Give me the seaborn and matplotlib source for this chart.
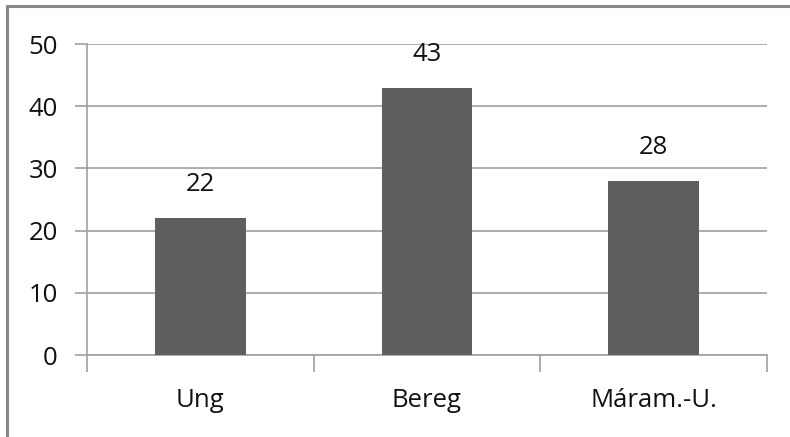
import matplotlib
matplotlib.use("Agg")
import matplotlib.pyplot as plt
from matplotlib.lines import Line2D
import seaborn as sns
import pandas as pd

categories = ["Ung", "Bereg", "Máram.-U."]
values = [22, 43, 28]
yticks = [0, 10, 20, 30, 40, 50]

sns.set_style("white")
plt.rcParams['font.family'] = ['Open Sans', 'DejaVu Sans']

df = pd.DataFrame({"cat": categories, "val": values})

fig = plt.figure(figsize=(7.9, 4.37), dpi=100)
ax = fig.add_axes([0.110, 0.1876, 0.861, 0.7117])
sns.barplot(data=df, x="cat", y="val", color="#5f5f5f", width=0.4,
            saturation=1, ax=ax, zorder=3, edgecolor="none", linewidth=0)

ax.set_xlim(-0.5, 2.5)
ax.set_ylim(0, 50)
ax.set_yticks(yticks)
ax.set_yticklabels([str(t) for t in yticks], fontsize=18.5)
ax.grid(axis="y", color="#a0a0a0", linewidth=1.2, zorder=0)
ax.set_axisbelow(True)
ax.set_xlabel("")
ax.set_ylabel("")

for s in ["top", "right"]:
    ax.spines[s].set_visible(False)
for s in ["left", "bottom"]:
    ax.spines[s].set_color("#a0a0a0")
    ax.spines[s].set_linewidth(1.2)

ax.tick_params(axis="y", left=True, direction="out", length=9, width=1.2,
               color="#a0a0a0", pad=12, labelcolor="#111111")
ax.set_xticks([0, 1, 2])
ax.set_xticklabels(categories, fontsize=18.5, color="#111111")
ax.tick_params(axis="x", which="major", bottom=True, length=0, pad=24)
ax.set_xticks([-0.5, 0.5, 1.5, 2.5], minor=True)
ax.tick_params(axis="x", which="minor", bottom=True, direction="out", length=12,
               width=1.2, color="#a0a0a0")

for i, v in enumerate(values):
    ax.annotate(str(v), (i, v), xytext=(0, 15), textcoords="offset points",
                ha="center", va="bottom", fontsize=18.5, color="#111111")

fig.add_artist(Line2D([0.0089, 1.0], [0.987, 0.987], color="#888888", linewidth=2.2, transform=fig.transFigure))
fig.add_artist(Line2D([0.0089, 0.0089], [0.0, 0.987], color="#888888", linewidth=2.2, transform=fig.transFigure))

fig.savefig("out.png", dpi=100, facecolor="white")
